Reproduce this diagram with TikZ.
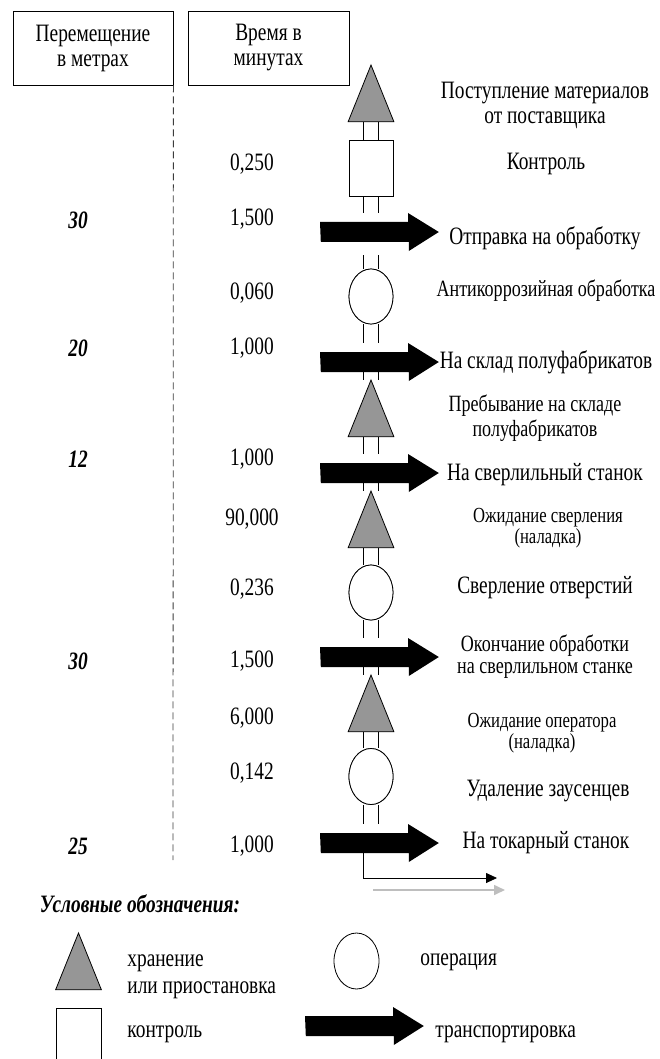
\documentclass[tikz,border=0pt]{standalone}
\usepackage{fontspec}
\setmainfont{Liberation Serif}[FakeStretch=0.775]
\usetikzlibrary{shapes.geometric,arrows.meta}
\definecolor{tgray}{RGB}{150,150,150}
\definecolor{lgray}{RGB}{190,190,190}
\definecolor{dgray}{RGB}{60,60,60}
\newcommand\fBig{\fontsize{25}{25}\selectfont}
\newcommand\fMid{\fontsize{23.3}{25}\selectfont}
\newcommand\fSm{\fontsize{21.5}{21}\selectfont}
\newcommand\fTw{\fontsize{23.3}{22}\selectfont}
\newcommand\stor[3]{\node[tribox] (#1) at (#2,#3) {};
  \filldraw[fill=tgray] (#1.north) -- (#1.south east) -- (#1.south west) -- cycle;}
\newcommand\trans[3]{\node[arrbox] (#1) at (#2,#3) {};
  \fill (#1.west) ++(0,-10) -- ++(88,0) -- ++(0,-9) -- (#1.east) -- ++(-30,19) -- ++(0,-9) -- ++(-88,0) -- cycle;}
\newcommand\dbl[3][0]{\draw (cL |- #2.south) ++(0,#1) -- (cL |- #3.north);
  \draw (cR |- #2.south) ++(0,#1) -- (cR |- #3.north);}
\begin{document}
\begin{tikzpicture}[x=1pt,y=-1pt,line width=0.8pt,
  hdr/.style={draw,minimum height=74,inner sep=0,align=center,font=\fBig},
  tribox/.style={minimum width=45,minimum height=56,inner sep=0,anchor=north},
  arrbox/.style={minimum width=118,minimum height=38,inner sep=0,anchor=west},
  opbox/.style={draw,fill=white,ellipse,minimum width=44,minimum height=55,inner sep=0},
  ctrlbox/.style={draw,fill=white,rectangle,minimum width=44,minimum height=56,inner sep=0},
  lbl/.style={inner sep=0,align=center,font=\fBig},
  num/.style={inner sep=0,font=\fBig},
  dist/.style={inner sep=0,font=\fBig\bfseries\itshape},
  leg/.style={inner sep=0,anchor=west,align=left,font=\fBig}]
\useasboundingbox (0,0) rectangle (659,1059);
% header
\node[hdr,minimum width=160] (h1) at (93,48) {Перемещение\\в метрах};
\node[hdr,minimum width=161] (h2) at (268.5,48) {Время в\\минутах};
\coordinate (dend) at (173,860);
\draw[dgray,dash pattern=on 7pt off 4pt] (h1.south east) -- (dend);
% column guides
\coordinate (cL) at (363.5,0);
\coordinate (cR) at (378.5,0);
% shapes (nodes first, invisible ones)
\node[tribox] (T1) at (371,65) {};
\node[ctrlbox] (K) at (371,168) {};
\node[arrbox] (A1) at (320,232) {};
\node[opbox] (O1) at (371,296.5) {};
\node[arrbox] (A2) at (320,362) {};
\node[tribox] (T2) at (371,380) {};
\node[arrbox] (A3) at (320,473) {};
\node[tribox] (T3) at (371,491) {};
\node[opbox] (O2) at (371,592.5) {};
\node[arrbox] (A4) at (320,657) {};
\node[tribox] (T4) at (371,675) {};
\node[opbox,minimum height=56] (O3) at (371,776.5) {};
\node[arrbox] (A5) at (320,843) {};
% double connectors
\dbl{T1}{K}
\dbl{K}{A1}
\dbl[4]{A1}{O1}
\dbl{O1}{A2}
\dbl[-9]{A2}{T2}
\dbl{T2}{A3}
\dbl[-9]{A3}{T3}
\dbl{T3}{O2}
\dbl{O2}{A4}
\dbl[-9]{A4}{T4}
\dbl{T4}{O3}
\dbl{O3}{A5}
% draw shapes over
\stor{T1}{371}{65}
\node[ctrlbox] (K) at (371,168) {};
\trans{A1}{320}{232}
\node[opbox] (O1) at (371,296.5) {};
\trans{A2}{320}{362}
\stor{T2}{371}{380}
\trans{A3}{320}{473}
\stor{T3}{371}{491}
\node[opbox] (O2) at (371,592.5) {};
\trans{A4}{320}{657}
\stor{T4}{371}{675}
\node[opbox,minimum height=56] (O3) at (371,776.5) {};
\trans{A5}{320}{843}
% exit lines
\coordinate (e1) at (497,878);
\draw[-{Triangle[length=11pt,width=10pt]}] (cL |- A5.south) ++(0,-9) |- (e1);
\coordinate (g1) at (373,890);
\coordinate (g2) at (505,890);
\draw[lgray,line width=1.6pt,-{Triangle[length=11pt,width=10pt]}] (g1) -- (g2);
% labels right
\node[lbl] (l1) at (545,105.5) {Поступление материалов\\от поставщика};
\node[lbl] (l2) at (546,164) {Контроль};
\node[lbl] (l3) at (545,238) {Отправка на обработку};
\node[lbl,font=\fMid] (l4) at (546,291) {Антикоррозийная обработка};
\node[lbl] (l5) at (546,362) {На склад полуфабрикатов};
\node[lbl,font=\fMid] (l6) at (535,418.5) {Пребывание на складе\\полуфабрикатов};
\node[lbl] (l7) at (545,475) {На сверлильный станок};
\node[lbl,font=\fSm] (l8) at (548,528.5) {Ожидание сверления\\(наладка)};
\node[lbl] (l9) at (545,588) {Сверление отверстий};
\node[lbl,font=\fTw] (l10) at (545,657) {Окончание обработки\\на сверлильном станке};
\node[lbl,font=\fSm] (l11) at (542,733.5) {Ожидание оператора\\(наладка)};
\node[lbl] (l12) at (548,791) {Удаление заусенцев};
\node[lbl] (l13) at (546,843) {На токарный станок};
% times
\node[num] (n1) at (252,164) {0,250};
\node[num] (n2) at (252,219) {1,500};
\node[num] (n3) at (252,293) {0,060};
\node[num] (n4) at (252,348) {1,000};
\node[num] (n5) at (252,459) {1,000};
\node[num] (n6) at (252,519) {90,000};
\node[num] (n7) at (252,589) {0,236};
\node[num] (n8) at (252,661) {1,500};
\node[num] (n9) at (252,718) {6,000};
\node[num] (n10) at (252,773) {0,142};
\node[num] (n11) at (252,846) {1,000};
% distances
\node[dist] (d1) at (78,220) {30};
\node[dist] (d2) at (78,348) {20};
\node[dist] (d3) at (78,459) {12};
\node[dist] (d4) at (78,661) {30};
\node[dist] (d5) at (78,846) {25};
% legend
\node[inner sep=0,font=\fBig\bfseries\itshape] (lg) at (140,904) {Условные обозначения:};
\stor{LT}{78.5}{933}
\node[opbox,minimum width=45,minimum height=56] (LO) at (356.5,961) {};
\node[ctrlbox,minimum width=45,anchor=north] (LK) at (78.5,1008) {};
\trans{LA}{305}{1026}
\node[leg,font={\fontsize{25}{27}\selectfont}] (lt1) at (127,977) {хранение\\или приостановка};
\node[leg] (lt2) at (420,962) {операция};
\node[leg] (lt3) at (127,1034) {контроль};
\node[leg] (lt4) at (435,1034) {транспортировка};
\end{tikzpicture}
\end{document}
